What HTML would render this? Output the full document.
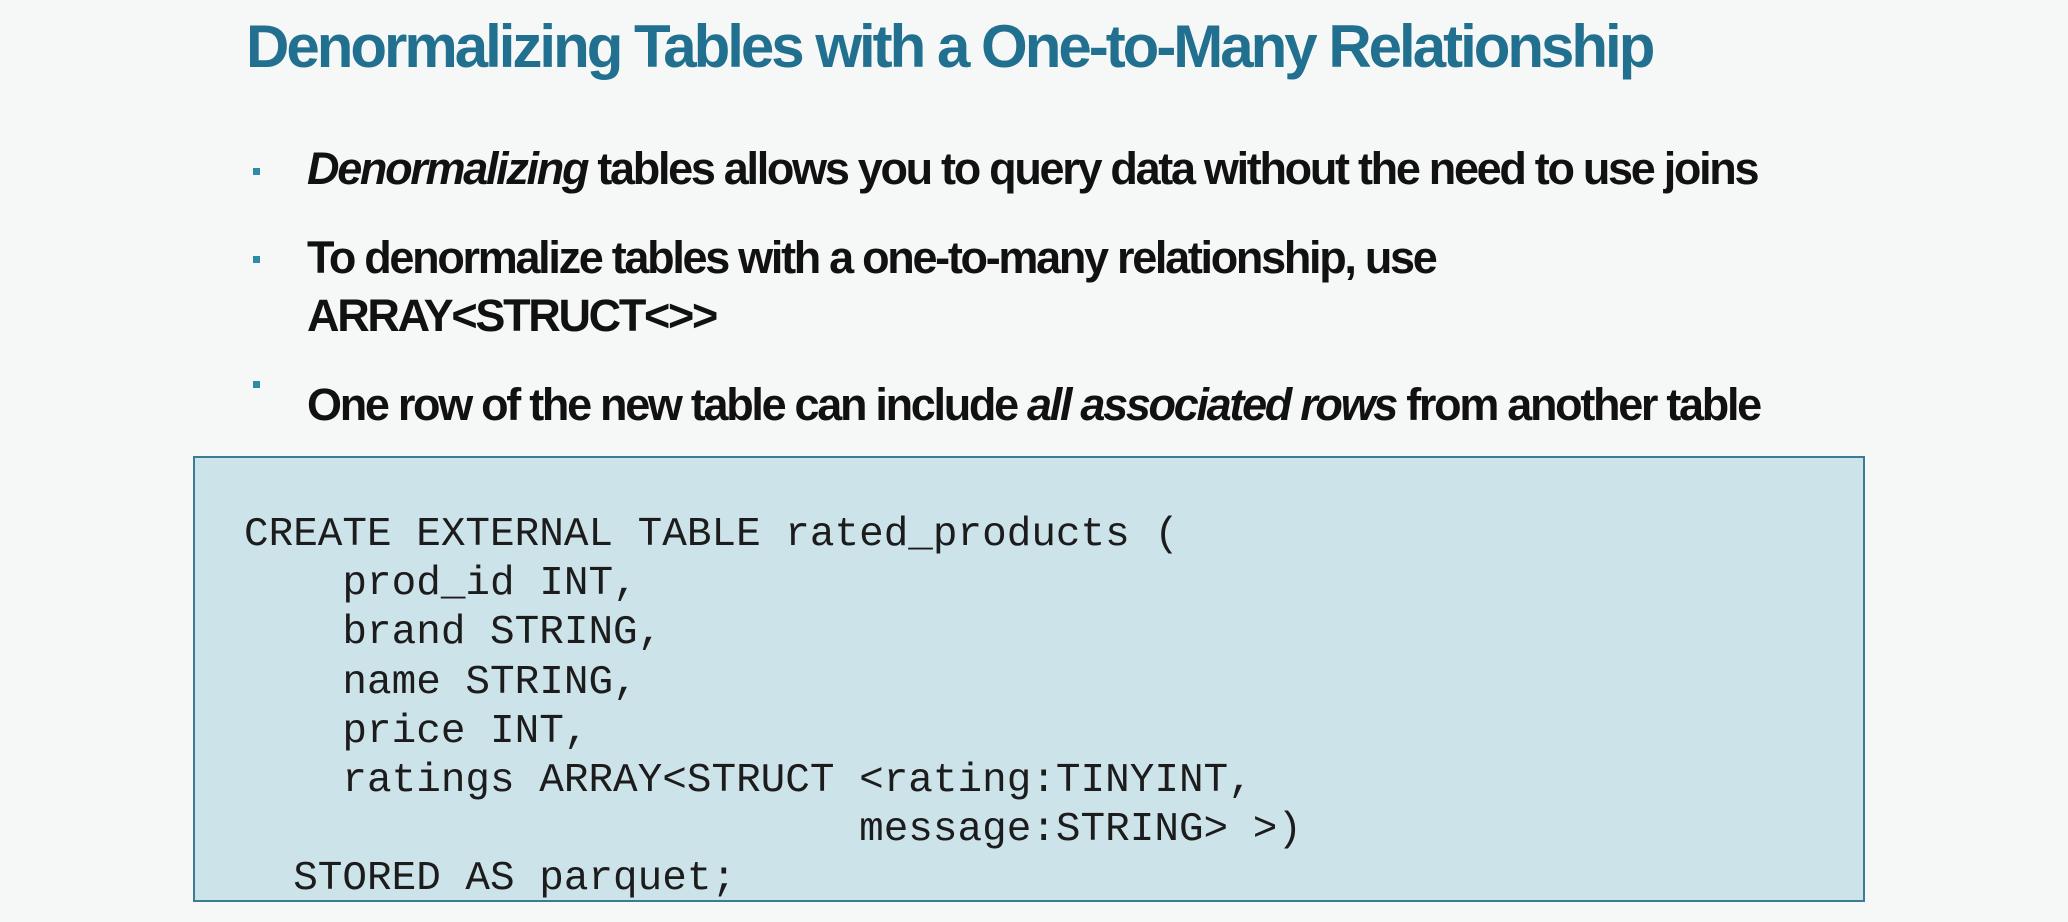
<!DOCTYPE html>
<html><head><style>
html,body{margin:0;padding:0;}
body{width:2068px;height:922px;background:#f6f7f7;position:relative;overflow:hidden;font-family:"Liberation Sans",sans-serif;}
.t{position:absolute;left:246px;top:12px;font-size:60px;font-weight:bold;color:#22708f;letter-spacing:-3px;white-space:nowrap;}
.b{position:absolute;left:307px;font-size:45px;font-weight:bold;color:#111;letter-spacing:-2.3px;white-space:nowrap;}
.d{position:absolute;left:253px;width:7px;height:7px;background:#2f8aa6;}
.box{position:absolute;left:193px;top:456px;width:1672px;height:446px;background:#cde3ea;border:2px solid #3b7c95;box-sizing:border-box;}
pre{position:absolute;left:244px;top:511px;margin:0;font-family:"Liberation Mono",monospace;font-size:41px;line-height:49.2px;color:#1c1c1c;}
</style></head><body>
<div class="t">Denormalizing Tables with a One-to-Many Relationship</div>
<div class="d" style="top:168px"></div>
<div class="b" style="top:143px"><i>Denormalizing</i> tables allows you to query data without the need to use joins</div>
<div class="d" style="top:256px"></div>
<div class="b" style="top:232px">To denormalize tables with a one-to-many relationship, use</div>
<div class="b" style="top:290px">ARRAY&lt;STRUCT&lt;&gt;&gt;</div>
<div class="d" style="top:381px"></div>
<div class="b" style="top:379px">One row of the new table can include <i>all associated rows</i> from another table</div>
<div class="box"></div>
<pre>CREATE EXTERNAL TABLE rated_products (
    prod_id INT,
    brand STRING,
    name STRING,
    price INT,
    ratings ARRAY&lt;STRUCT &lt;rating:TINYINT,
                         message:STRING&gt; &gt;)
  STORED AS parquet;</pre>
</body></html>
